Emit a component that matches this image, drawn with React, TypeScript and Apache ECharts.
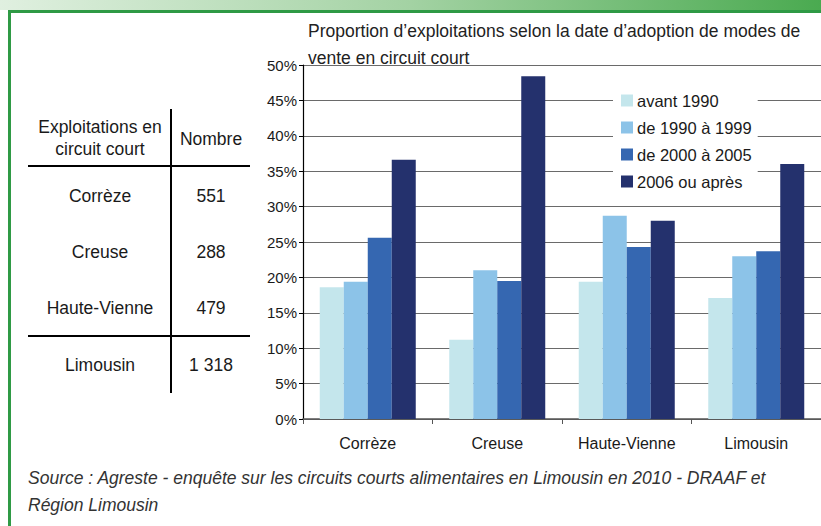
import React, { useEffect, useRef } from "react";
import * as echarts from "echarts";

const categories = ["Corrèze", "Creuse", "Haute-Vienne", "Limousin"];
const seriesNames = ["avant 1990", "de 1990 à 1999", "de 2000 à 2005", "2006 ou après"];
const avant1990 = [18.6, 11.2, 19.4, 17.1];
const de1990a1999 = [19.4, 21.0, 28.7, 23.0];
const de2000a2005 = [25.6, 19.5, 24.3, 23.7];
const apres2006 = [36.6, 48.4, 28.0, 36.0];
const seriesColors = ["#c4e6ec", "#8cc3e8", "#3567b1", "#24316d"];

const tableHeader = ["Exploitations en\ncircuit court", "Nombre"];
const tableRegions = ["Corrèze", "Creuse", "Haute-Vienne", "Limousin"];
const tableCounts = ["551", "288", "479", "1 318"];

const titleText = "Proportion d’exploitations selon la date d’adoption de modes de\nvente en circuit court";
const sourceText = "Source : Agreste - enquête sur les circuits courts alimentaires en Limousin en 2010 - DRAAF et\nRégion Limousin";

export default function App() {
  const ref = useRef<HTMLDivElement>(null);
  useEffect(() => {
    if (!ref.current) return;
    const chart = echarts.init(ref.current, null, { renderer: "svg" });
    const font = "'Liberation Sans', Arial, sans-serif";
    const allValues = [avant1990, de1990a1999, de2000a2005, apres2006];
    const rowY = [196, 252, 308, 365];
    const tableTexts: any[] = [];
    tableTexts.push({
      type: "text",
      x: 100,
      y: 138,
      style: { text: tableHeader[0], fill: "#1a1a1a", font: `17.5px ${font}`, align: "center", verticalAlign: "middle", lineHeight: 22 },
    });
    tableTexts.push({
      type: "text",
      x: 211,
      y: 139,
      style: { text: tableHeader[1], fill: "#1a1a1a", font: `17.5px ${font}`, align: "center", verticalAlign: "middle" },
    });
    tableRegions.forEach((r, i) => {
      tableTexts.push({
        type: "text",
        x: 100,
        y: rowY[i],
        style: { text: r, fill: "#1a1a1a", font: `17.5px ${font}`, align: "center", verticalAlign: "middle" },
      });
      tableTexts.push({
        type: "text",
        x: 211,
        y: rowY[i],
        style: { text: tableCounts[i], fill: "#1a1a1a", font: `17.5px ${font}`, align: "center", verticalAlign: "middle" },
      });
    });

    chart.setOption({
      animation: false,
      backgroundColor: "#ffffff",
      textStyle: { fontFamily: font },
      title: {
        text: titleText,
        left: 308,
        top: 17,
        padding: 0,
        textStyle: { fontSize: 17.5, fontWeight: "normal", color: "#222", lineHeight: 27, fontFamily: font },
      },
      legend: {
        orient: "vertical",
        left: 613,
        top: 88,
        padding: [4, 6, 8, 8],
        backgroundColor: "#ffffff",
        itemWidth: 12,
        itemHeight: 12,
        itemGap: 10,
        icon: "rect",
        data: seriesNames,
        textStyle: { fontSize: 16.5, color: "#1a1a1a", lineHeight: 16, padding: [0, 0, 0, -1], fontFamily: font },
      },
      grid: { left: 303, top: 65, width: 519, height: 354, containLabel: false },
      xAxis: {
        type: "category",
        data: categories,
        axisLine: { lineStyle: { color: "#555", width: 1.5 } },
        axisTick: { show: true, length: 5, lineStyle: { color: "#555" } },
        axisLabel: { fontSize: 16, color: "#1a1a1a", margin: 16, fontFamily: font },
      },
      yAxis: {
        type: "value",
        min: 0,
        max: 50,
        interval: 5,
        axisLine: { show: true, lineStyle: { color: "#000", width: 1.2 } },
        axisTick: { show: true, length: 4, lineStyle: { color: "#000" } },
        axisLabel: { formatter: "{value}%", fontSize: 15, color: "#1a1a1a", margin: 6, fontFamily: font },
        splitLine: { lineStyle: { color: "#6a6a6a", width: 1.2 } },
      },
      series: seriesNames.map((name, i) => ({
        name,
        type: "bar",
        data: allValues[i],
        barWidth: 24,
        barGap: "0%",
        itemStyle: { color: seriesColors[i] },
      })),
      graphic: [
        {
          type: "rect",
          shape: { x: 0, y: 0, width: 821, height: 10 },
          style: {
            fill: new echarts.graphic.LinearGradient(0, 0, 1, 0, [
              { offset: 0, color: "#e0f0e0" },
              { offset: 0.5, color: "#a3d2a3" },
              { offset: 1, color: "#4aaa50" },
            ]),
          },
          silent: true,
        },
        { type: "rect", shape: { x: 8, y: 10, width: 813, height: 3 }, style: { fill: "#2f9a45" }, silent: true },
        { type: "rect", shape: { x: 8, y: 10, width: 3, height: 516 }, style: { fill: "#2f9a45" }, silent: true },
        { type: "line", shape: { x1: 171, y1: 109, x2: 171, y2: 393 }, style: { stroke: "#000", lineWidth: 2 } },
        { type: "line", shape: { x1: 28, y1: 166, x2: 250, y2: 166 }, style: { stroke: "#000", lineWidth: 2 } },
        { type: "line", shape: { x1: 28, y1: 336, x2: 250, y2: 336 }, style: { stroke: "#000", lineWidth: 2 } },
        ...tableTexts,
        {
          type: "text",
          x: 28,
          y: 464,
          style: { text: sourceText, fill: "#333", font: `italic 17.5px ${font}`, lineHeight: 27, verticalAlign: "top" },
        },
      ],
    });
    return () => chart.dispose();
  }, []);
  return <div ref={ref} style={{ position: "fixed", left: 0, top: 0, width: 821, height: 526 }} />;
}
